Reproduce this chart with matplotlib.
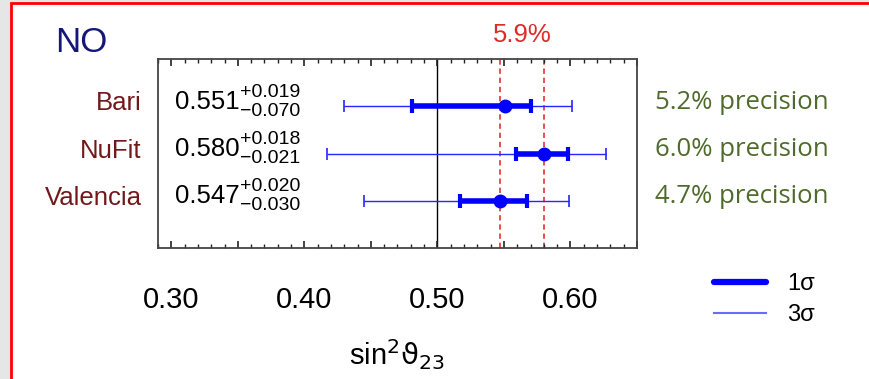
import matplotlib

matplotlib.use("Agg")
import matplotlib.pyplot as plt
from matplotlib.lines import Line2D
from matplotlib.patches import Rectangle
from matplotlib.ticker import FuncFormatter, MultipleLocator

plt.rcParams["font.family"] = ["Liberation Sans", "DejaVu Sans"]

# global fits of sin^2(theta_23), normal ordering
fits = ["Bari", "NuFit", "Valencia"]
best = [0.551, 0.580, 0.547]
err_up = [0.019, 0.018, 0.020]
err_dn = [0.070, 0.021, 0.030]
lo_3sig = [0.430, 0.417, 0.445]
hi_3sig = [0.601, 0.627, 0.599]
precision = ["5.2%", "6.0%", "4.7%"]
spread_lines = [0.547, 0.580]
spread_label = "5.9%"
xticks = [0.30, 0.40, 0.50, 0.60]

W, H = 869, 379
fig = plt.figure(figsize=(W / 100, H / 100), dpi=100, facecolor="#e6e6e6")
fig.add_artist(Rectangle((10.5 / W, -0.05), 1.0, 1.05 - 3.5 / H, transform=fig.transFigure,
                         facecolor="white", edgecolor="#ff0000", lw=2, zorder=-5))

ax = fig.add_axes([158 / W, 131 / H, 479 / W, 189 / H])
ax.set_xlim(0.29, 0.65)
ax.set_ylim(0, 4)

rows = [3, 2, 1]
blue = "#0000ff"
thin_blue = "#2525ff"

ax.axvline(0.5, color="black", lw=1, zorder=1)
for xv in spread_lines:
    ax.axvline(xv, color="#e02020", lw=1.1, ls=(0, (3.5, 2.5)), zorder=1)

for y, b, up, dn, lo, hi in zip(rows, best, err_up, err_dn, lo_3sig, hi_3sig):
    ax.errorbar([b], [y], xerr=[[b - lo], [hi - b]], fmt="none", ecolor=thin_blue,
                elinewidth=1, capsize=4, capthick=1.2, zorder=2)
    ax.errorbar([b], [y], xerr=[[dn], [up]], fmt="o", color=blue, ms=9,
                elinewidth=4, capsize=5, capthick=3, zorder=3)

ytr = ax.get_yaxis_transform()
for y, name, b, up, dn, prec in zip(rows, fits, best, err_up, err_dn, precision):
    ax.text(-0.034, y + 0.06, name, transform=ytr, ha="right", va="center",
            fontsize=18.5, color="#72181a")
    main = ax.text(0.036, y + 0.1, f"{b:.3f}", transform=ytr, ha="left", va="center",
                   fontsize=18.5, color="black")
    ax.annotate(f"+{up:.3f}", xy=(1, 0.5), xycoords=main, xytext=(0, 6.5),
                textcoords="offset points", ha="left", va="center", fontsize=14)
    ax.annotate(f"\u2212{dn:.3f}", xy=(1, 0.5), xycoords=main, xytext=(0, -7),
                textcoords="offset points", ha="left", va="center", fontsize=14)
    ax.text(1.0376, y + 0.08, f"{prec} precision", transform=ytr, ha="left", va="center",
            fontsize=18.5, color="#4f6b2b", family=["Open Sans", "DejaVu Sans"])

ax.text(sum(spread_lines) / 2, 1.125, spread_label, transform=ax.get_xaxis_transform(),
        ha="center", va="center", fontsize=18.5, color="#e02a2a")

for side in ax.spines.values():
    side.set_color("#444444")
    side.set_linewidth(1.3)
ax.set_yticks([])
ax.xaxis.set_major_locator(MultipleLocator(0.05))
ax.xaxis.set_minor_locator(MultipleLocator(0.01))
ax.xaxis.set_major_formatter(FuncFormatter(
    lambda v, _: f"{v:.2f}" if any(abs(v - t) < 1e-6 for t in xticks) else ""))
ax.tick_params(axis="x", which="both", direction="in", top=True, bottom=True,
               color="#222222", labelsize=21)
ax.tick_params(axis="x", which="major", length=5, width=1.2, pad=27)
ax.tick_params(axis="x", which="minor", length=3, width=1)

fig.text(397 / W, 1 - 355 / H, r"sin$^2$$\mathrm{\vartheta}_{23}$", ha="center", va="center",
         fontsize=21)
fig.text(81 / W, 1 - 43 / H, "NO", ha="center", va="center", fontsize=25, color="#16167a")

handles = [Line2D([], [], color=blue, lw=4.5, solid_capstyle="round"),
           Line2D([], [], color="#6b6bff", lw=1.5)]
fig.legend(handles, ["1\u03c3", "3\u03c3"], loc="upper left", bbox_to_anchor=(714 / W, 1 - 273 / H),
           frameon=False, fontsize=17, handlelength=2.2, handletextpad=0.9,
           labelspacing=0.38, borderpad=0, borderaxespad=0)

fig.savefig("out.png", dpi=100, facecolor=fig.get_facecolor())
